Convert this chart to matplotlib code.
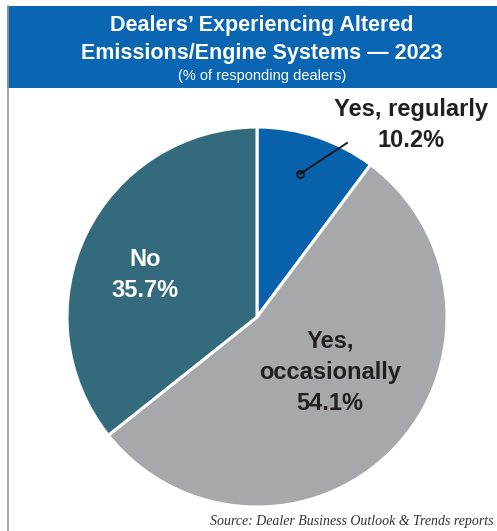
import matplotlib
matplotlib.use("Agg")
import matplotlib.pyplot as plt
from matplotlib.patches import Rectangle
from matplotlib.lines import Line2D

labels = ["Yes, regularly", "Yes,\noccasionally", "No"]
values = [10.2, 54.1, 35.7]
colors = ["#0762ab", "#a7a8ab", "#336b7c"]
text_colors = ["#231f20", "#231f20", "white"]

W, H = 497, 531
fig = plt.figure(figsize=(W / 100, H / 100), dpi=100)
fig.patch.set_facecolor("white")

narrow = ["Liberation Sans Narrow", "Liberation Sans", "DejaVu Sans"]
sans = ["Liberation Sans", "DejaVu Sans"]

# header band + left frame line
fig.add_artist(Rectangle((7 / W, 1 - 88 / H), 1 - 7 / W, 82 / H, transform=fig.transFigure,
                         facecolor="#0a66b2", edgecolor="none"))
fig.add_artist(Line2D([8 / W, 8 / W], [0, 1 - 6 / H], transform=fig.transFigure,
                      color="#9a9a9a", lw=1.2))

fig.text(262 / W, 1 - 26 / H, "Dealers’ Experiencing Altered", ha="center", va="center",
         color="white", fontsize=15.5, fontweight="bold", family=sans)
fig.text(262 / W, 1 - 54 / H, "Emissions/Engine Systems — 2023", ha="center", va="center",
         color="white", fontsize=15.5, fontweight="bold", family=sans)
fig.text(262 / W, 1 - 76 / H, "(% of responding dealers)", ha="center", va="center",
         color="white", fontsize=10.5, family=sans)

# pie
cx, cy, r = 257, 317, 190
ax = fig.add_axes([(cx - r) / W, (H - cy - r) / H, 2 * r / W, 2 * r / H])
ax.pie(values, colors=colors, startangle=90, counterclock=False,
       wedgeprops=dict(edgecolor="white", linewidth=2.2))
ax.set_xlim(-1, 1)
ax.set_ylim(-1, 1)
ax.set_aspect("equal")
ax.axis("off")

# labels
lab_kw = dict(ha="center", va="center", fontsize=17, fontweight="bold",
              family=narrow, linespacing=1.45)
ax.text(0.81, 1.01, f"{labels[0]}\n{values[0]}%", color=text_colors[0],
        clip_on=False, **lab_kw)
ax.plot([0.226, 0.474], [0.753, 0.916], color="#111111", lw=1.3, zorder=5)
ax.plot([0.226], [0.753], "o", ms=5, mfc="none", mec="#111111", mew=1.3, zorder=6)

ax.text(0.385, -0.29, f"{labels[1]}\n{values[1]}%", color=text_colors[1], **lab_kw)
ax.text(-0.59, 0.22, f"{labels[2]}\n{values[2]}%", color=text_colors[2], **lab_kw)

fig.text(493 / W, 1 - 522 / H, "Source: Dealer Business Outlook & Trends reports",
         ha="right", va="center", fontsize=10, style="italic", color="#333333",
         family=["Liberation Serif", "DejaVu Serif"])

fig.savefig("out.png", dpi=100)
